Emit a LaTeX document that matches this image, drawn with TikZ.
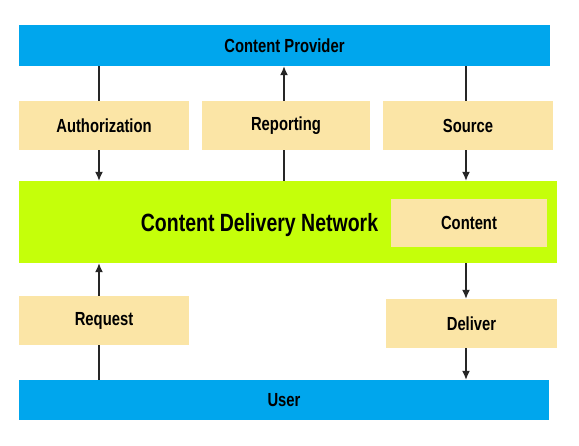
\documentclass[tikz,border=0pt]{standalone}
\usepackage{fontspec}
\setmainfont{Liberation Sans}
\usepackage{xcolor}
\usepackage{graphicx}
\usetikzlibrary{arrows.meta}
\definecolor{provider}{RGB}{0,166,237}
\definecolor{network}{RGB}{197,255,10}
\definecolor{stepfill}{RGB}{251,229,166}
\newcommand{\tall}[1]{\scalebox{1}[1.28]{#1}}
\tikzstyle{bar}=[fill=provider, minimum height=41pt, inner sep=0pt, font=\fontsize{14.8}{18}\selectfont\bfseries]
\tikzstyle{stepbox}=[fill=stepfill, minimum width=170pt, minimum height=49pt, inner sep=0pt, font=\fontsize{14.8}{18}\selectfont\bfseries]
\tikzstyle{link}=[-{Latex[length=9pt,width=8pt]}, line width=1.3pt, color=black!85]
\tikzstyle{plain}=[line width=1.3pt, color=black!85]

\begin{document}
\begin{tikzpicture}[x=1pt,y=1pt]
  \useasboundingbox (0,0) rectangle (579,446);

  \draw (284.5,400.5) node[bar, minimum width=531pt] (CP) {\tall{Content Provider}};
  \draw (104,320.5) node[stepbox] (A) {\tall{Authorization}};
  \draw (286,320.5) node[stepbox, minimum width=168pt] (R) {\tall{Reporting}};
  \draw (468,320.5) node[stepbox] (S) {\tall{Source}};

  \draw (288,224) node[fill=network, minimum width=538pt, minimum height=82pt, inner sep=0pt] (CDN) {};
  \draw (259.5,220.5) node[font=\fontsize{19.5}{22}\selectfont\bfseries] (CDNtext) {\tall{Content Delivery Network}};
  \draw (469,223) node[stepbox, minimum width=156pt, minimum height=48pt] (C) {\tall{Content}};

  \draw (104,125.5) node[stepbox] (Q) {\tall{Request}};
  \draw (471.5,122.5) node[stepbox, minimum width=171pt] (D) {\tall{Deliver}};
  \draw (284,46) node[bar, minimum width=530pt, minimum height=40pt] (U) {\tall{User}};

  %% top half
  \draw[plain] ([xshift=-5pt]A.north) -- ([xshift=-5pt]A.north |- CP.south);
  \draw[link] ([xshift=-5pt]A.south) -- ([xshift=-5pt]A.south |- CDN.north);
  \draw[plain] ([xshift=-2pt]R.south) -- ([xshift=-2pt]R.south |- CDN.north);
  \draw[link] ([xshift=-2pt]R.north) -- ([xshift=-2pt]R.north |- CP.south);
  \draw[plain] ([xshift=-2pt]S.north) -- ([xshift=-2pt]S.north |- CP.south);
  \draw[link] ([xshift=-2pt]S.south) -- ([xshift=-2pt]S.south |- CDN.north);

  %% bottom half
  \draw[plain] ([xshift=-5pt]Q.south) -- ([xshift=-5pt]Q.south |- U.north);
  \draw[link] ([xshift=-5pt]Q.north) -- ([xshift=-5pt]Q.north |- CDN.south);
  \draw[link] ([xshift=-5.5pt]D.north |- CDN.south) -- ([xshift=-5.5pt]D.north);
  \draw[link] ([xshift=-5.5pt]D.south) -- ([xshift=-5.5pt]D.south |- U.north);
\end{tikzpicture}
\end{document}
